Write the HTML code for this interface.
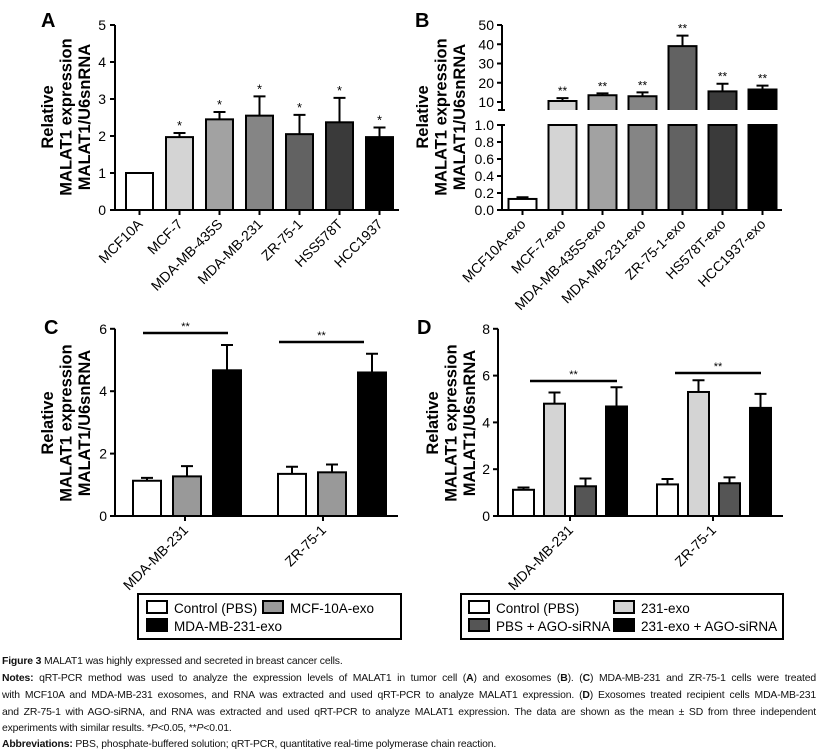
<!DOCTYPE html>
<html><head><meta charset="utf-8">
<style>
body{margin:0;background:#fff;width:821px;height:749px;overflow:hidden;position:relative;font-family:"Liberation Sans",sans-serif}
svg{position:absolute;left:0;top:0}
.cap{position:absolute;left:2px;width:814px;font-size:10.4px;color:#111;white-space:nowrap;letter-spacing:-0.15px}
.j{text-align:justify;text-align-last:justify}
</style></head><body>
<svg id="fig" width="821" height="749"></svg>
<div class="cap" style="top:656px"><b>Figure 3</b> MALAT1 was highly expressed and secreted in breast cancer cells.</div>
<div class="cap j" style="top:673px"><b>Notes:</b> qRT-PCR method was used to analyze the expression levels of MALAT1 in tumor cell (<b>A</b>) and exosomes (<b>B</b>). (<b>C</b>) MDA-MB-231 and ZR-75-1 cells were treated</div>
<div class="cap j" style="top:690px">with MCF10A and MDA-MB-231 exosomes, and RNA was extracted and used qRT-PCR to analyze MALAT1 expression. (<b>D</b>) Exosomes treated recipient cells MDA-MB-231</div>
<div class="cap j" style="top:707px">and ZR-75-1 with AGO-siRNA, and RNA was extracted and used qRT-PCR to analyze MALAT1 expression. The data are shown as the mean ± SD from three independent</div>
<div class="cap" style="top:723px">experiments with similar results. *<i>P</i>&lt;0.05, **<i>P</i>&lt;0.01.</div>
<div class="cap" style="top:739px"><b>Abbreviations:</b> PBS, phosphate-buffered solution; qRT-PCR, quantitative real-time polymerase chain reaction.</div>
<script>
// Panel A data
const aCats=["MCF10A","MCF-7","MDA-MB-435S","MDA-MB-231","ZR-75-1","HSS578T","HCC1937"];
const aVals=[1,1.97,2.45,2.55,2.05,2.37,1.97];
const aErr=[0,0.11,0.2,0.52,0.52,0.66,0.26];
const aSig=["","*","*","*","*","*","*"];
const aTicks=[0,1,2,3,4,5];
// Panel B data
const bCats=["MCF10A-exo","MCF-7-exo","MDA-MB-435S-exo","MDA-MB-231-exo","ZR-75-1-exo","HS578T-exo","HCC1937-exo"];
const bVals=[0.13,10.5,13.5,13,39,15.5,16.5];
const bErr=[0.02,1.5,1,2,5.5,4,2];
const bSig=["","**","**","**","**","**","**"];
const bTicksLow=[0,0.2,0.4,0.6,0.8,1.0];
const bTicksHigh=[10,20,30,40,50];
// Panel C data
const cGroups=["MDA-MB-231","ZR-75-1"];
const cSeries=["Control (PBS)","MCF-10A-exo","MDA-MB-231-exo"];
const cVals=[[1.13,1.27,4.67],[1.35,1.4,4.6]];
const cErr=[[0.09,0.33,0.81],[0.23,0.25,0.6]];
const cTicks=[0,2,4,6];
// Panel D data
const dGroups=["MDA-MB-231","ZR-75-1"];
const dSeries=["Control (PBS)","231-exo","PBS + AGO-siRNA","231-exo + AGO-siRNA"];
const dVals=[[1.12,4.8,1.27,4.68],[1.35,5.3,1.4,4.62]];
const dErr=[[0.1,0.48,0.33,0.82],[0.23,0.5,0.25,0.6]];
const dTicks=[0,2,4,6,8];

const svg=document.getElementById('fig');
const NS="http://www.w3.org/2000/svg";
function mk(tag,attrs,parent){const e=document.createElementNS(NS,tag);for(const k in attrs)e.setAttribute(k,attrs[k]);(parent||svg).appendChild(e);return e;}
function txt(s,attrs,parent){const e=mk('text',attrs,parent);e.textContent=s;return e;}

function barRect(x,w,y0,y1,fill){return mk('rect',{x:x,y:Math.min(y0,y1),width:w,height:Math.abs(y1-y0),fill:fill,stroke:'#000','stroke-width':2});}
function errBar(cx,yv,ye,hw){const g=mk('path',{d:`M${cx},${yv}V${ye}M${cx-hw},${ye}H${cx+hw}`,stroke:'#000','stroke-width':2,fill:'none'});return g;}
function yTitle(x,cy){
  const lines=["Relative","MALAT1 expression","MALAT1/U6snRNA"];
  lines.forEach((s,i)=>{const t=txt(s,{x:0,y:0,'font-size':16.5,'font-weight':'bold','text-anchor':'middle',transform:`translate(${x+i*18.5},${cy}) rotate(-90)`});
  
  });
}
function xLabel(s,x,y,fs,italic){const t=txt(s,{x:0,y:0,'font-size':fs,'text-anchor':'end','font-style':italic?'italic':'normal',transform:`translate(${x+4},${y}) rotate(-45)`});
  
  }
function panelLetter(s,x,y){const t=txt(s,{x:x,y:y,'font-size':20,'font-weight':'bold'});
  
  }

// ---------- Panel A
(function(){
  const x0=115,y0=210,ppu=37,xEnd=399;
  const y=v=>y0-v*ppu, x=i=>139.5+i*40;
  const fills=['#fff','#d4d4d4','#a2a2a2','#858585','#626262','#3a3a3a','#000'];
  panelLetter('A',41,27); yTitle(53,117);
  aTicks.forEach(t=>{mk('line',{x1:x0-5,x2:x0,y1:y(t),y2:y(t),stroke:'#000','stroke-width':2});
    const l=txt(String(t),{x:x0-9,y:y(t)+5,'font-size':14,'text-anchor':'end'});
    
    });
  aVals.forEach((v,i)=>{
    if(aErr[i]>0){const e=errBar(x(i),y(v),y(v+aErr[i]),6);}
    const r=barRect(x(i)-13.5,27,y0,y(v),fills[i]);
    
    
    if(aSig[i]){const s=txt(aSig[i],{x:x(i),y:y(v+aErr[i])-3,'font-size':13,'text-anchor':'middle'});
      
      }
    mk('line',{x1:x(i),x2:x(i),y1:y0,y2:y0+5,stroke:'#000','stroke-width':2});
    xLabel(aCats[i],x(i),y0+15,14);
  });
  mk('path',{d:`M${x0},${y(5)}V${y0}H${xEnd}`,stroke:'#000','stroke-width':2,fill:'none'});
})();

// ---------- Panel B
(function(){
  const x0=502,y0=210,xEnd=782;
  const yLow=v=>y0-v*85;
  const yHigh=v=>102-(v-10)*1.925;
  const x=i=>522.5+i*40;
  const fills=['#fff','#d4d4d4','#a2a2a2','#858585','#626262','#3a3a3a','#000'];
  panelLetter('B',415,27); yTitle(428,117);
  bTicksLow.forEach(t=>{mk('line',{x1:x0-5,x2:x0,y1:yLow(t),y2:yLow(t),stroke:'#000','stroke-width':2});
    const l=txt(t.toFixed(1),{x:x0-8,y:yLow(t)+5,'font-size':14,'text-anchor':'end'});
    
    });
  bTicksHigh.forEach(t=>{mk('line',{x1:x0-5,x2:x0,y1:yHigh(t),y2:yHigh(t),stroke:'#000','stroke-width':2});
    const l=txt(String(t),{x:x0-8,y:yHigh(t)+5,'font-size':14,'text-anchor':'end'});
    
    });
  bVals.forEach((v,i)=>{
    let top;
    if(v<=1){top=yLow(v+bErr[i]);
      const e=errBar(x(i),yLow(v),top,6);
      const r=barRect(x(i)-14,28,y0,yLow(v),fills[i]);
      
      
    } else {top=yHigh(v+bErr[i]);
      const e=errBar(x(i),yHigh(v),top,6);
      const r=mk('path',{d:`M${x(i)-14},${y0}V${yLow(1)}H${x(i)+14}V${y0}Z M${x(i)-14},110V${yHigh(v)}H${x(i)+14}V110`,fill:fills[i],stroke:'#000','stroke-width':2});
      
      
      mk('rect',{x:x(i)-15,y:111,width:30,height:13,fill:'#fff'});
    }
    if(bSig[i]){const s=txt(bSig[i],{x:x(i),y:top-3,'font-size':12,'text-anchor':'middle'});
      
      }
    mk('line',{x1:x(i),x2:x(i),y1:y0,y2:y0+5,stroke:'#000','stroke-width':2});
    xLabel(bCats[i],x(i),y0+15,14);
  });
  mk('path',{d:`M${x0},${yHigh(50)}V110 M${x0},125V${y0}H${xEnd}`,stroke:'#000','stroke-width':2,fill:'none'});
  mk('path',{d:`M${x0-4},110H${x0+3} M${x0-4},125H${x0+3}`,stroke:'#000','stroke-width':2});
})();

// ---------- grouped panel helper
function grouped(o){
  const y=v=>o.y0-v*o.ppu;
  panelLetter(o.letter,o.lx,334); yTitle(o.tx,423);
  o.ticks.forEach(t=>{mk('line',{x1:o.x0-5,x2:o.x0,y1:y(t),y2:y(t),stroke:'#000','stroke-width':2});
    const l=txt(String(t),{x:o.x0-8,y:y(t)+5,'font-size':14,'text-anchor':'end'});
    
    });
  o.vals.forEach((grp,g)=>{
    grp.forEach((v,s)=>{
      const cx=o.gx[g]+s*o.step+o.bw/2;
      const e=errBar(cx,y(v),y(v+o.err[g][s]),6);
      const r=barRect(o.gx[g]+s*o.step,o.bw,o.y0,y(v),o.fills[s]);
      
      
    });
    const tx=o.tickX[g];
    mk('line',{x1:tx,x2:tx,y1:o.y0,y2:o.y0+5,stroke:'#000','stroke-width':2});
    xLabel(o.groups[g],tx,o.y0+15,14);
    const sg=o.sig[g];
    const ln=mk('line',{x1:sg[0],x2:sg[1],y1:sg[2],y2:sg[2],stroke:'#000','stroke-width':2.5});
    
    
    const st=txt('**',{x:(sg[0]+sg[1])/2,y:sg[2]-3,'font-size':11,'text-anchor':'middle'});
    
    
  });
  mk('path',{d:`M${o.x0},${y(o.ticks[o.ticks.length-1])}V${o.y0}H${o.xEnd}`,stroke:'#000','stroke-width':2,fill:'none'});
  const L=o.leg;
  const box=mk('rect',{x:L.x,y:594,width:L.w,height:45,fill:'#fff',stroke:'#000','stroke-width':2});
  
  
  L.items.forEach((it,i)=>{
    const sw=mk('rect',{x:it[0],y:it[1],width:20,height:12,fill:o.fills[it[2]],stroke:'#000','stroke-width':2});
    
    
    const t=txt(o.series[it[2]],{x:it[0]+27,y:it[1]+12,'font-size':13.5});
    
    
  });
}
grouped({letter:'C',lx:44,tx:53,x0:115,y0:516,ppu:31.2,xEnd:398,ticks:cTicks,vals:cVals,err:cErr,groups:cGroups,series:cSeries,
  gx:[133,278],step:40,bw:28,fills:['#fff','#999','#000'],tickX:[185,323],
  sig:[[143,228,333],[279,364,342]],
  leg:{x:138,w:263,items:[[147,601,0],[263,601,1],[147,619,2]]}});
grouped({letter:'D',lx:417,tx:438,x0:498,y0:516,ppu:23.4,xEnd:783,ticks:dTicks,vals:dVals,err:dErr,groups:dGroups,series:dSeries,
  gx:[513,657],step:31,bw:21,fills:['#fff','#d4d4d4','#555','#000'],tickX:[570,713],
  sig:[[530,617,381],[675,761,373]],
  leg:{x:461,w:322,items:[[469,601,0],[614,601,1],[469,619,2],[614,619,3]]}});
</script>
</body></html>
